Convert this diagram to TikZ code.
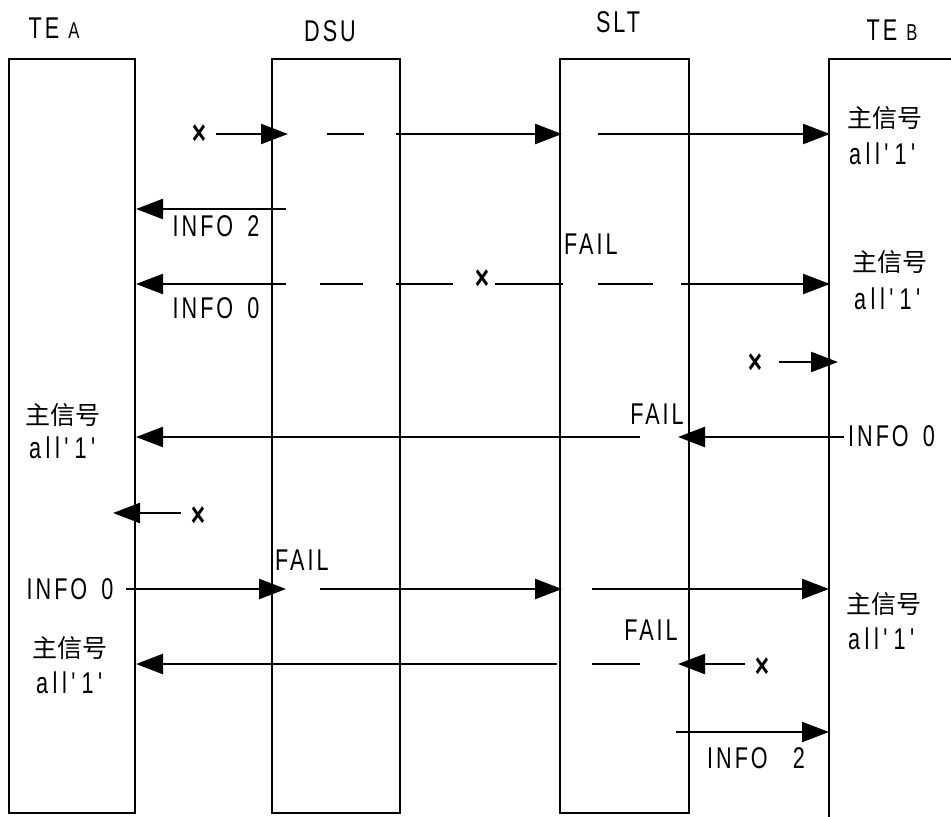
\documentclass[tikz,border=0pt]{standalone}
\usepackage{fontspec}
\setmainfont{Liberation Sans}[FakeStretch=0.72,LetterSpace=10]
\newfontfamily\cjk{Noto Sans CJK SC}
\usetikzlibrary{arrows.meta}
\newcommand{\allone}{a\kern4.5pt l\kern4.5pt l\kern4.5pt\textquotesingle\kern4.5pt 1\kern4.5pt\textquotesingle}
\newcommand{\info}[1]{INFO\hspace{5pt} #1}
\begin{document}
\begin{tikzpicture}[x=1pt,y=-1pt,
  lane/.style={line width=1.8pt},
  sig/.style={line width=2.4pt},
  arr/.style={sig,-{Triangle[length=27pt,width=20pt]}},
  txt/.style={inner sep=0pt,font=\fontsize{30}{32}\selectfont},
  cjktxt/.style={inner sep=0pt,font=\cjk\fontsize{25}{27}\selectfont},
  cross/.style={inner sep=0pt,font=\bfseries\fontsize{34}{36}\selectfont}]
\useasboundingbox (0,0) rectangle (951,817);
% lanes
\draw[lane] (9,59) rectangle (135,813);
\draw[lane] (272,59) rectangle (400,813);
\draw[lane] (560,59) rectangle (689,813);
\draw[lane] (951,59) -- (829,59) -- (829,817);
% headers
\node[txt] (hA) at (54,28) {TE {\fontsize{23}{25}\selectfont A}};
\node[txt] (hD) at (330,31) {DSU};
\node[txt] (hS) at (618,22) {SLT};
\node[txt] (hB) at (892,30) {TE {\fontsize{23}{25}\selectfont B}};
% row 1
\node[cross] (x1) at (199,135) {×};
\coordinate (r1a) at (216,134); \coordinate (r1b) at (288,134);
\coordinate (r1c) at (327,134); \coordinate (r1d) at (364,134);
\coordinate (r1e) at (396,134); \coordinate (r1f) at (562,134);
\coordinate (r1g) at (598,134); \coordinate (r1h) at (830,134);
\draw[arr] (r1a) -- (r1b);
\draw[sig] (r1c) -- (r1d);
\draw[arr] (r1e) -- (r1f);
\draw[arr] (r1g) -- (r1h);
\node[cjktxt] (b1a) at (885,118) {主信号};
\node[txt] (b1b) at (883,154) {\allone};
% row 2
\coordinate (r2a) at (286,209); \coordinate (r2b) at (136,209);
\draw[arr] (r2a) -- (r2b);
\node[txt] (i2) at (216,226) {\info{2}};
\node[txt,anchor=west] (f1) at (564,244) {FAIL};
% row 3
\coordinate (r3a) at (286,284); \coordinate (r3b) at (136,284);
\coordinate (r3c) at (320,284); \coordinate (r3d) at (363,284);
\coordinate (r3e) at (396,284); \coordinate (r3f) at (453,284);
\coordinate (r3g) at (495,284); \coordinate (r3h) at (563,284);
\coordinate (r3i) at (598,284); \coordinate (r3j) at (653,284);
\coordinate (r3k) at (681,284); \coordinate (r3l) at (830,284);
\draw[arr] (r3a) -- (r3b);
\draw[sig] (r3c) -- (r3d);
\draw[sig] (r3e) -- (r3f);
\node[cross] (x2) at (482,280) {×};
\draw[sig] (r3g) -- (r3h);
\draw[sig] (r3i) -- (r3j);
\draw[arr] (r3k) -- (r3l);
\node[txt] (i0a) at (216,308) {\info{0}};
\node[cjktxt] (b2a) at (890,262) {主信号};
\node[txt] (b2b) at (888,299) {\allone};
% row 4
\node[cross] (x3) at (755,364) {×};
\coordinate (r4a) at (779,362); \coordinate (r4b) at (838,362);
\draw[arr] (r4a) -- (r4b);
% row 5
\node[cjktxt] (a1a) at (63,415) {主信号};
\node[txt] (a1b) at (63,448) {\allone};
\node[txt] (f2) at (657,414) {FAIL};
\coordinate (r5a) at (640,437); \coordinate (r5b) at (136,437);
\coordinate (r5c) at (844,437); \coordinate (r5d) at (678,437);
\draw[arr] (r5a) -- (r5b);
\draw[arr] (r5c) -- (r5d);
\node[txt,anchor=west] (i0b) at (848,436) {\info{0}};
% row 6
\node[cross] (x4) at (198,517) {×};
\coordinate (r6a) at (181,513); \coordinate (r6b) at (113,513);
\draw[arr] (r6a) -- (r6b);
% row 7
\node[txt,anchor=west] (f3) at (275,560) {FAIL};
\node[txt] (i0c) at (70,589) {\info{0}};
\coordinate (r7a) at (126,589); \coordinate (r7b) at (286,589);
\coordinate (r7c) at (320,589); \coordinate (r7d) at (562,589);
\coordinate (r7e) at (592,589); \coordinate (r7f) at (829,589);
\draw[arr] (r7a) -- (r7b);
\draw[arr] (r7c) -- (r7d);
\draw[arr] (r7e) -- (r7f);
\node[cjktxt] (b3a) at (884,604) {主信号};
\node[txt] (b3b) at (882,639) {\allone};
% row 8
\node[txt] (f4) at (651,630) {FAIL};
\node[cjktxt] (a2a) at (70,648) {主信号};
\node[txt] (a2b) at (70,683) {\allone};
\coordinate (r8a) at (557,664); \coordinate (r8b) at (136,664);
\coordinate (r8c) at (592,664); \coordinate (r8d) at (640,664);
\coordinate (r8e) at (745,664); \coordinate (r8f) at (678,664);
\draw[arr] (r8a) -- (r8b);
\draw[sig] (r8c) -- (r8d);
\draw[arr] (r8e) -- (r8f);
\node[cross] (x5) at (762,668) {×};
% row 9
\coordinate (r9a) at (676,732); \coordinate (r9b) at (829,732);
\draw[arr] (r9a) -- (r9b);
\node[txt] (i2b) at (756,758) {INFO\hspace{16pt} 2};
\end{tikzpicture}
\end{document}
